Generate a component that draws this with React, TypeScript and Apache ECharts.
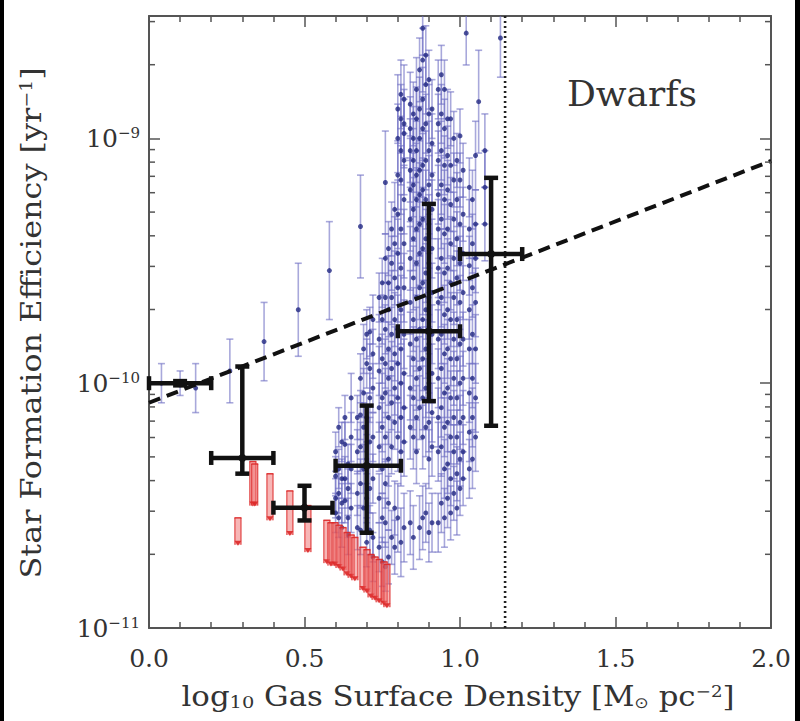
import React, { useEffect, useRef } from 'react';
import * as echarts from 'echarts';

const FONT = '"DejaVu Serif", serif';
const TXT = '#333333';
const AXC = '#555555';

// axis ranges / ticks
const xMin = 0;
const xMax = 2;
const xInterval = 0.5;
const yMinLog = -11;
const yMaxLog = -8.5;
const yMinorTicks = [
  2e-11, 3e-11, 4e-11, 5e-11, 6e-11, 7e-11, 8e-11, 9e-11,
  2e-10, 3e-10, 4e-10, 5e-10, 6e-10, 7e-10, 8e-10, 9e-10,
  2e-9, 3e-9,
];

// sparse blue points (x, log10 SFE, error in dex)
const sparseX = [0.04, 0.10, 0.15, 0.26, 0.37, 0.48, 0.58, 0.68, 0.76, 0.88, 1.02, 1.13, 1.06];
const sparseLogY = [-10.0, -10.0, -10.02, -9.95, -9.83, -9.70, -9.54, -9.36, -9.18, -8.55, -8.57, -8.59, -8.85];
const sparseErr = [0.08, 0.05, 0.10, 0.13, 0.16, 0.19, 0.20, 0.21, 0.21, 0.11, 0.13, 0.16, 0.21];

// dense blue columns
const denseColX = [
  0.60, 0.61, 0.62, 0.63, 0.64, 0.65, 0.67, 0.68, 0.69, 0.70, 0.71, 0.72, 0.74, 0.75,
  0.76, 0.77, 0.78, 0.79, 0.80, 0.81, 0.82, 0.84, 0.85, 0.86, 0.87, 0.88, 0.89, 0.90,
  0.91, 0.93, 0.94, 0.95, 0.96, 0.97, 0.98, 0.99, 1.00, 1.01, 1.03, 1.04, 1.05, 1.08,
];
const denseColLogY = [
  [-10.28, -10.38, -10.47, -10.53],
  [-10.18, -10.35, -10.45, -10.55],
  [-10.24, -10.39, -10.49, -10.59],
  [-10.14, -10.25, -10.39, -10.48],
  [-10.33, -10.43, -10.55, -10.62],
  [-10.06, -10.22, -10.35, -10.51],
  [-10.14, -10.28, -10.45, -10.59],
  [-9.98, -10.13, -10.26, -10.41, -10.60],
  [-9.86, -10.04, -10.18, -10.35, -10.51],
  [-9.80, -9.92, -10.14, -10.31, -10.47, -10.65],
  [-9.79, -9.94, -10.06, -10.24, -10.43, -10.60],
  [-9.74, -9.88, -10.02, -10.22, -10.39, -10.63, -10.71],
  [-9.65, -9.82, -9.95, -10.10, -10.26, -10.47, -10.67],
  [-9.59, -9.74, -9.90, -10.06, -10.18, -10.35, -10.55, -10.73],
  [-9.49, -9.65, -9.78, -9.92, -10.04, -10.22, -10.41, -10.57, -10.75],
  [-9.45, -9.59, -9.70, -9.86, -9.98, -10.14, -10.31, -10.49, -10.71],
  [-9.37, -9.51, -9.65, -9.80, -9.94, -10.08, -10.26, -10.63],
  [-9.29, -9.43, -9.57, -9.74, -9.88, -10.02, -10.16, -10.51, -10.67],
  [-8.88, -9.00, -9.15, -9.31, -9.47, -9.61, -9.78, -9.92, -10.06, -10.22, -10.55],
  [-8.82, -8.92, -9.05, -9.17, -9.37, -9.53, -9.70, -9.86, -10.00, -10.14, -10.28, -10.65],
  [-8.84, -8.94, -8.98, -9.09, -9.25, -9.43, -9.61, -9.80, -9.96, -10.10, -10.24, -10.59],
  [-8.86, -8.96, -9.05, -9.13, -9.21, -9.33, -9.49, -9.67, -9.84, -10.02, -10.18, -10.57],
  [-8.90, -9.00, -9.09, -9.19, -9.29, -9.41, -9.57, -9.74, -9.90, -10.06, -10.22, -10.63],
  [-8.80, -8.92, -9.05, -9.15, -9.25, -9.37, -9.51, -9.65, -9.82, -9.98, -10.14, -10.28],
  [-8.72, -8.88, -9.00, -9.13, -9.23, -9.35, -9.47, -9.61, -9.78, -9.94, -10.10, -10.59],
  [-8.68, -8.84, -8.96, -9.11, -9.21, -9.33, -9.45, -9.59, -9.74, -9.90, -10.06, -10.22, -10.55],
  [-8.66, -8.78, -8.94, -9.09, -9.25, -9.41, -9.55, -9.70, -9.86, -10.02, -10.18, -10.53],
  [-8.76, -8.90, -9.05, -9.19, -9.35, -9.51, -9.65, -9.84, -10.00, -10.16, -10.31, -10.61],
  [-8.88, -9.02, -9.15, -9.29, -9.45, -9.63, -9.80, -9.96, -10.12, -10.26, -10.57],
  [-8.80, -8.94, -9.09, -9.23, -9.37, -9.53, -9.67, -9.82, -9.98, -10.14, -10.28, -10.57],
  [-8.74, -8.90, -9.05, -9.19, -9.33, -9.49, -9.65, -9.80, -9.94, -10.10, -10.26, -10.49],
  [-8.80, -8.96, -9.11, -9.25, -9.39, -9.55, -9.72, -9.88, -10.04, -10.18, -10.35, -10.55],
  [-8.92, -9.07, -9.21, -9.37, -9.53, -9.70, -9.86, -10.02, -10.16, -10.33, -10.47],
  [-8.92, -9.11, -9.27, -9.43, -9.59, -9.74, -9.90, -10.06, -10.22, -10.39, -10.53],
  [-9.00, -9.17, -9.33, -9.49, -9.65, -9.82, -9.98, -10.14, -10.28, -10.45],
  [-9.09, -9.25, -9.41, -9.57, -9.74, -9.90, -10.06, -10.22, -10.37, -10.51],
  [-8.99, -9.17, -9.35, -9.51, -9.67, -9.84, -10.00, -10.16, -10.31, -10.43],
  [-9.13, -9.31, -9.47, -9.63, -9.82, -9.98, -10.14, -10.28, -10.39],
  [-9.20, -9.37, -9.52, -9.70, -9.86, -10.04, -10.20, -10.35],
  [-9.25, -9.43, -9.61, -9.80, -9.98, -10.14, -10.31],
  [-9.07, -9.35, -9.49, -9.67, -9.86, -10.06, -10.22],
  [-9.05, -9.20, -9.35],
];
const denseColErr = [
  0.08, 0.08, 0.08, 0.09, 0.08, 0.10, 0.09, 0.10, 0.10, 0.10, 0.10, 0.10, 0.10, 0.10,
  0.10, 0.11, 0.11, 0.11, 0.14, 0.14, 0.14, 0.13, 0.13, 0.13, 0.13, 0.13, 0.12, 0.12,
  0.12, 0.12, 0.12, 0.12, 0.12, 0.11, 0.11, 0.11, 0.11, 0.11, 0.12, 0.12, 0.14, 0.15,
];

// red upper limits (x, log10 of limit, arrow length in dex)
const limitX = [
  0.286, 0.334, 0.340, 0.389, 0.453, 0.511, 0.572, 0.585, 0.598, 0.611, 0.624,
  0.637, 0.650, 0.662, 0.688, 0.701, 0.714, 0.727, 0.740, 0.756, 0.765,
];
const limitLogTop = [
  -10.55, -10.32, -10.33, -10.37, -10.44, -10.50, -10.56, -10.57, -10.57, -10.58, -10.59,
  -10.61, -10.62, -10.63, -10.67, -10.68, -10.70, -10.71, -10.72, -10.73, -10.74,
];
const limitLen = [
  0.11, 0.18, 0.17, 0.19, 0.18, 0.19, 0.175, 0.175, 0.175, 0.175, 0.175,
  0.175, 0.175, 0.175, 0.175, 0.175, 0.175, 0.175, 0.175, 0.175, 0.175,
];

// binned medians (black)
const binX = [0.10, 0.30, 0.50, 0.70, 0.90, 1.10];
const binXLo = [0.00, 0.20, 0.40, 0.60, 0.80, 1.00];
const binXHi = [0.20, 0.40, 0.59, 0.81, 1.00, 1.20];
const binY = [1.0e-10, 4.95e-11, 3.1e-11, 4.6e-11, 1.63e-10, 3.37e-10];
const binYLo = [0.98e-10, 4.27e-11, 2.75e-11, 2.45e-11, 8.45e-11, 6.7e-11];
const binYHi = [1.02e-10, 1.17e-10, 3.81e-11, 8.1e-11, 5.4e-10, 6.9e-10];

// fit line and threshold
const fitX = [0, 2];
const fitY = [8.32e-11, 8.09e-10];
const thresholdX = 1.145;

const lg = (v: number) => Math.pow(10, v);

export default function App() {
  const ref = useRef<HTMLDivElement>(null);

  useEffect(() => {
    const chart = echarts.init(ref.current!, null, { renderer: 'svg' });

    const blueData: number[][] = [];
    denseColX.forEach((x, i) => {
      denseColLogY[i].forEach((ly) => {
        const e = denseColErr[i];
        blueData.push([x, lg(ly), lg(ly - e), lg(ly + e)]);
      });
    });
    sparseX.forEach((x, i) => {
      const ly = sparseLogY[i];
      const e = sparseErr[i];
      blueData.push([x, lg(ly), lg(ly - e), lg(ly + e)]);
    });

    const limitData = limitX.map((x, i) => [x, lg(limitLogTop[i]), lg(limitLogTop[i] - limitLen[i])]);
    const binData = binX.map((x, i) => [x, binY[i], binXLo[i], binXHi[i], binYLo[i], binYHi[i]]);
    const minorData = yMinorTicks.map((v) => [xMin, v]);

    const BAR = 'rgba(110,110,195,0.6)';
    const DOT = '#222882';

    const axisLine = { show: true, onZero: false, lineStyle: { color: AXC, width: 2 } };
    const axisTick = { show: true, inside: true, length: 11, lineStyle: { color: AXC, width: 1.5 } };
    const xMinor = { show: true, splitNumber: 5, length: 6, lineStyle: { color: AXC, width: 1.5 } };

    const yLabelFormatter = (v: number) => {
      const l = Math.log10(v);
      const e = Math.round(l);
      if (Math.abs(l - e) > 0.01) return '';
      return `{a|10}{b|\u2212${-e}}`;
    };

    const titleRich = {
      t: { fontFamily: FONT, fontSize: 27, fill: TXT },
      s: { fontFamily: FONT, fontSize: 17, fill: TXT, verticalAlign: 'bottom' },
      o: { fontFamily: '"DejaVu Sans", sans-serif', fontSize: 15, fill: TXT, verticalAlign: 'bottom' },
      p: { fontFamily: FONT, fontSize: 16, fill: TXT, verticalAlign: 'top' },
    };

    const option: any = {
      animation: false,
      backgroundColor: '#ffffff',
      grid: { left: 149, right: 29, top: 16, bottom: 93, containLabel: false },
      xAxis: [
        {
          type: 'value', min: xMin, max: xMax, interval: xInterval, position: 'bottom',
          axisLine, axisTick, minorTick: xMinor, splitLine: { show: false },
          axisLabel: {
            formatter: (v: number) => v.toFixed(1), fontFamily: FONT, fontSize: 25,
            color: TXT, margin: 18,
          },
        },
        {
          type: 'value', min: xMin, max: xMax, interval: xInterval, position: 'top',
          axisLine, axisTick, minorTick: xMinor, splitLine: { show: false },
          axisLabel: { show: false },
        },
      ],
      yAxis: [
        {
          type: 'log', logBase: 10, min: lg(yMinLog), max: lg(yMaxLog), position: 'left',
          axisLine, axisTick, splitLine: { show: false },
          axisLabel: {
            formatter: yLabelFormatter, margin: 9,
            rich: {
              a: { fontFamily: FONT, fontSize: 25, color: TXT },
              b: { fontFamily: FONT, fontSize: 15, color: TXT, verticalAlign: 'top' },
            },
          },
        },
        {
          type: 'log', logBase: 10, min: lg(yMinLog), max: lg(yMaxLog), position: 'right',
          axisLine, axisTick, splitLine: { show: false }, axisLabel: { show: false },
        },
      ],
      series: [
        {
          type: 'custom', name: 'blue-err', data: blueData, clip: true, silent: true, z: 2,
          encode: { x: 0, y: 1 },
          renderItem: (params: any, api: any) => {
            const x = api.value(0);
            const lo = api.coord([x, api.value(2)]);
            const hi = api.coord([x, api.value(3)]);
            const st = { stroke: BAR, lineWidth: 1.6 };
            const c = 3.5;
            return {
              type: 'group',
              children: [
                { type: 'line', shape: { x1: lo[0], y1: lo[1], x2: hi[0], y2: hi[1] }, style: st },
                { type: 'line', shape: { x1: lo[0] - c, y1: lo[1], x2: lo[0] + c, y2: lo[1] }, style: st },
                { type: 'line', shape: { x1: hi[0] - c, y1: hi[1], x2: hi[0] + c, y2: hi[1] }, style: st },
              ],
            };
          },
        },
        {
          type: 'scatter', name: 'blue', data: blueData.map((d) => [d[0], d[1]]),
          symbolSize: 5, itemStyle: { color: DOT }, silent: true, z: 3,
        },
        {
          type: 'custom', name: 'limits', data: limitData, silent: true, z: 4,
          encode: { x: 0, y: 1 },
          renderItem: (params: any, api: any) => {
            const x = api.value(0);
            const t = api.coord([x, api.value(1)]);
            const b = api.coord([x, api.value(2)]);
            const red = 'rgba(220,40,40,0.9)';
            return {
              type: 'group',
              children: [
                { type: 'rect', shape: { x: t[0] - 3.5, y: t[1], width: 7, height: b[1] - t[1] }, style: { fill: 'rgba(240,110,110,0.5)' } },
                { type: 'line', shape: { x1: t[0] - 3, y1: t[1], x2: b[0] - 3, y2: b[1] }, style: { stroke: red, lineWidth: 1 } },
                { type: 'line', shape: { x1: t[0] + 3, y1: t[1], x2: b[0] + 3, y2: b[1] }, style: { stroke: red, lineWidth: 1 } },
                { type: 'line', shape: { x1: t[0] - 3.5, y1: t[1], x2: t[0] + 3.5, y2: t[1] }, style: { stroke: red, lineWidth: 1.5 } },
                { type: 'polygon', shape: { points: [[b[0] - 3.5, b[1] - 4], [b[0] + 3.5, b[1] - 4], [b[0], b[1] + 1]] }, style: { fill: red } },
              ],
            };
          },
        },
        {
          type: 'line', name: 'threshold', data: [[thresholdX, lg(yMinLog)], [thresholdX, lg(yMaxLog)]],
          symbol: 'none', silent: true, z: 5,
          lineStyle: { color: '#222', width: 2.6, type: [2, 3] },
        },
        {
          type: 'line', name: 'fit', data: fitX.map((x, i) => [x, fitY[i]]),
          symbol: 'none', silent: true, z: 6,
          lineStyle: { color: '#111', width: 4, type: [12, 7] },
        },
        {
          type: 'custom', name: 'bins', data: binData, silent: true, z: 7,
          encode: { x: 0, y: 1 },
          renderItem: (params: any, api: any) => {
            const x = api.value(0);
            const y = api.value(1);
            const c = api.coord([x, y]);
            const l = api.coord([api.value(2), y]);
            const r = api.coord([api.value(3), y]);
            const b = api.coord([x, api.value(4)]);
            const t = api.coord([x, api.value(5)]);
            const st = { stroke: '#111', lineWidth: 4.5 };
            const h = 7;
            return {
              type: 'group',
              children: [
                { type: 'line', shape: { x1: l[0], y1: l[1], x2: r[0], y2: r[1] }, style: st },
                { type: 'line', shape: { x1: t[0], y1: t[1], x2: b[0], y2: b[1] }, style: st },
                { type: 'line', shape: { x1: l[0], y1: l[1] - h, x2: l[0], y2: l[1] + h }, style: st },
                { type: 'line', shape: { x1: r[0], y1: r[1] - h, x2: r[0], y2: r[1] + h }, style: st },
                { type: 'line', shape: { x1: t[0] - h, y1: t[1], x2: t[0] + h, y2: t[1] }, style: st },
                { type: 'line', shape: { x1: b[0] - h, y1: b[1], x2: b[0] + h, y2: b[1] }, style: st },
                { type: 'circle', shape: { cx: c[0], cy: c[1], r: 4 }, style: { fill: '#111' } },
              ],
            };
          },
        },
        {
          type: 'custom', name: 'minor-y-ticks', data: minorData, silent: true, z: 8,
          encode: { x: 0, y: 1 },
          renderItem: (params: any, api: any) => {
            const v = api.value(1);
            const pl = api.coord([xMin, v]);
            const pr = api.coord([xMax, v]);
            const st = { stroke: AXC, lineWidth: 1.5 };
            return {
              type: 'group',
              children: [
                { type: 'line', shape: { x1: pl[0], y1: pl[1], x2: pl[0] + 6, y2: pl[1] }, style: st },
                { type: 'line', shape: { x1: pr[0], y1: pr[1], x2: pr[0] - 6, y2: pr[1] }, style: st },
              ],
            };
          },
        },
      ],
      graphic: [
        { type: 'rect', shape: { x: 0, y: 0, width: 4, height: 721 }, style: { fill: '#000' }, silent: true },
        { type: 'rect', shape: { x: 795, y: 0, width: 5, height: 721 }, style: { fill: '#000' }, silent: true },
        {
          type: 'text', x: 632, y: 93, silent: true,
          style: { text: 'Dwarfs', fontFamily: FONT, fontSize: 36, fill: TXT, align: 'center', verticalAlign: 'middle' },
        },
        {
          type: 'text', x: 458, y: 697, scaleX: 1.14, silent: true,
          style: {
            text: '{t|log}{s|10}{t| Gas Surface Density [M}{o|\u2299}{t| pc}{p|\u22122}{t|]}',
            rich: titleRich, align: 'center', verticalAlign: 'middle',
          },
        },
        {
          type: 'text', x: 32, y: 323, rotation: Math.PI / 2, scaleX: 1.18, silent: true,
          style: {
            text: '{t|Star Formation Efficiency [yr}{p|\u22121}{t|]}',
            rich: titleRich, align: 'center', verticalAlign: 'middle',
          },
        },
      ],
    };

    chart.setOption(option);
    return () => chart.dispose();
  }, []);

  return (
    <div
      ref={ref}
      style={{ position: 'absolute', left: 0, top: 0, width: 800, height: 721, background: '#fff' }}
    />
  );
}
